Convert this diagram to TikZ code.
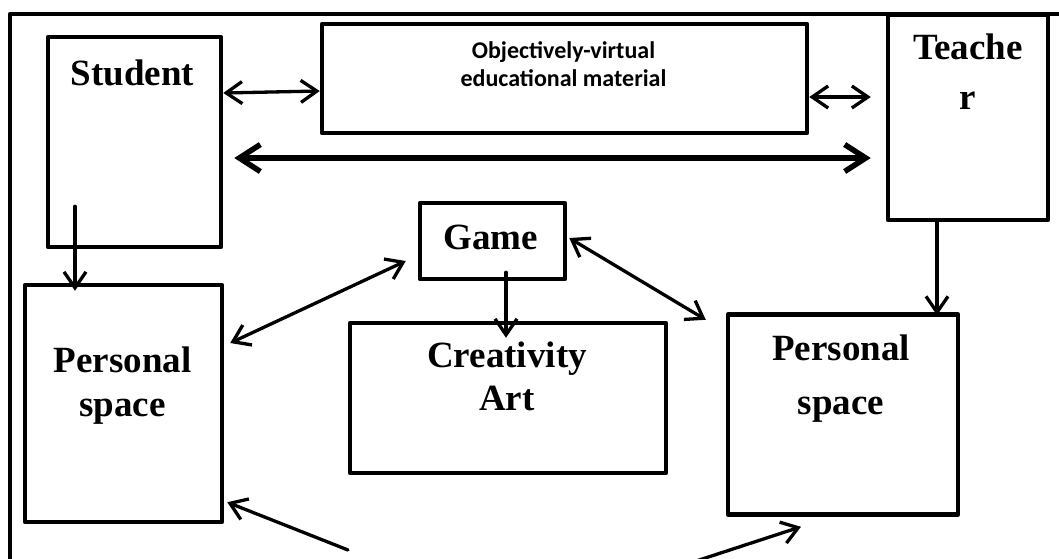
\documentclass[tikz,border=0pt]{standalone}
\usepackage{fontspec}
\setmainfont{Liberation Serif}
\newfontfamily\calib{Carlito}
\usetikzlibrary{arrows.meta,positioning}

\begin{document}
\begin{tikzpicture}[
        x=1pt, y=-1pt,
        line cap=round,
        line join=round]

        \tikzset{box/.style={
            draw = black,
            line width = 4.5pt,
            rectangle,
            inner sep = 0pt
        }}
        \tikzset{lbl/.style={font=\fontsize{37}{44}\selectfont\bfseries, align=center, inner sep=0pt}}
        \tikzset{lnk/.style={line width=3.3pt, -{Straight Barb[length=16pt,width=22pt]}}}
        \tikzset{dlnk/.style={lnk, {Straight Barb[length=16pt,width=22pt]}-{Straight Barb[length=16pt,width=22pt]}}}
        \tikzset{thk/.style={line width=5.5pt, {Straight Barb[length=21pt,width=27pt]}-{Straight Barb[length=21pt,width=27pt]}}}

        \useasboundingbox (0,0) rectangle (1059,558);
        \clip (0,0) rectangle (1059,558);
        % outer frame, cut at right and bottom
        \draw[line width=4.5pt] (1075,14) -- (10,14) -- (10,575);

        \node[box, minimum width=173pt, minimum height=210pt] (stud) at (134.5,142) {};
        \node[box, minimum width=485pt, minimum height=109pt] (obj) at (564.5,78.5) {};
        \node[box, minimum width=160pt, minimum height=205pt] (teach) at (968,117.5) {};
        \node[box, minimum width=197pt, minimum height=237pt] (lpers) at (123.5,403.5) {};
        \node[box, minimum width=145pt, minimum height=76pt] (game) at (492.5,241) {};
        \node[box, minimum width=316pt, minimum height=150pt] (crea) at (508,398) {};
        \node[box, minimum width=230pt, minimum height=200pt] (rpers) at (843,414.5) {};

        % base anchor sits on the last line
        \node[lbl, anchor=base] (studtxt) at ([xshift=-2pt,yshift=-51pt]stud.north) {Student};
        \node[lbl, anchor=base, font=\calib\fontsize{24}{28}\selectfont\bfseries] (objtxt)
            at ([xshift=-1pt,yshift=-65pt]obj.north) {Objectively-virtual\\educational material};
        \node[lbl, anchor=base, font=\fontsize{37}{50}\selectfont\bfseries] (teachtxt)
            at ([yshift=-97pt]teach.north) {Teache\\r};
        \node[lbl, anchor=base] (lperstxt) at ([xshift=-1pt,yshift=-134pt]lpers.north) {Personal\\space};
        \node[lbl, anchor=base] (gametxt) at ([xshift=-2pt,yshift=-49pt]game.north) {Game};
        \node[lbl, anchor=base, font=\fontsize{37}{43}\selectfont\bfseries] (creatxt)
            at ([xshift=-1pt,yshift=-90pt]crea.north) {Creativity\\Art};
        \node[lbl, anchor=base, font=\fontsize{37}{54}\selectfont\bfseries] (rperstxt)
            at ([xshift=-2pt,yshift=-102.5pt]rpers.north) {Personal\\space};

        \coordinate (s1) at ([xshift=-59.5pt,yshift=43pt]stud.south);
        \coordinate (t1) at ([xshift=-31pt]teach.south);
        \coordinate (g1) at ([xshift=13.5pt,yshift=9pt]game.south);
        \coordinate (bl) at (348,550);
        \coordinate (br) at (690,563);

        \draw[dlnk] ([yshift=49pt]stud.east) -- ([yshift=-12.5pt]obj.west);
        \draw[dlnk, shorten >=15pt] ([yshift=-18.5pt]obj.east) -- ([yshift=-18.5pt]obj.east -| teach.west);
        \draw[thk, shorten <=11pt, shorten >=15pt] ([yshift=-16pt]stud.east) -- ([yshift=-16pt]stud.east -| teach.west);
        \draw[lnk, shorten >=-8pt] (s1) -- (s1 |- lpers.north);
        \draw[lnk, shorten >=-3pt] (t1) -- (t1 |- rpers.north);
        \draw[dlnk] ([xshift=6pt,yshift=60.5pt]lpers.east) -- ([xshift=-12pt,yshift=-20pt]game.west);
        \draw[dlnk] ([xshift=2pt,yshift=3pt]game.east) -- ([xshift=-20pt,yshift=-7.5pt]rpers.north west);
        \draw[lnk, shorten >=-17pt] (g1) -- (g1 |- crea.north);
        \draw[lnk] (bl) -- ([xshift=3pt,yshift=22pt]lpers.south east);
        \draw[lnk] (br) -- ([xshift=-42pt,yshift=-10pt]rpers.south);
    \end{tikzpicture}
\end{document}
